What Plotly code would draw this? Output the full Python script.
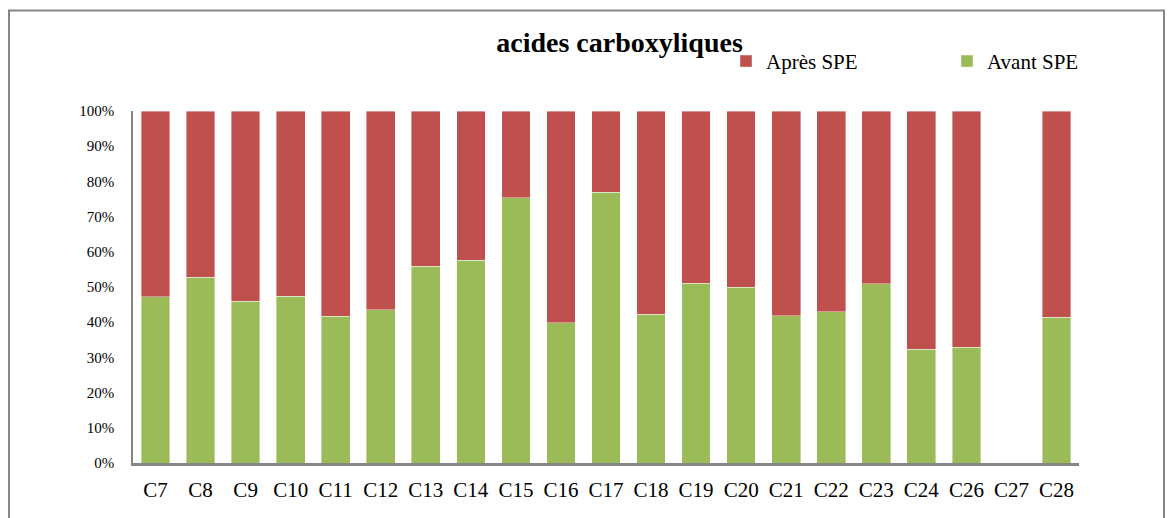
import plotly.graph_objects as go

categories = ["C7", "C8", "C9", "C10", "C11", "C12", "C13", "C14", "C15", "C16", "C17",
              "C18", "C19", "C20", "C21", "C22", "C23", "C24", "C26", "C27", "C28"]
avant_spe = [47.2, 52.8, 46.0, 47.4, 41.7, 43.5, 55.9, 57.6, 75.3, 39.9, 76.9,
             42.2, 51.0, 50.0, 41.8, 42.9, 50.9, 32.3, 32.9, None, 41.4]
apres_spe = [52.8, 47.2, 54.0, 52.6, 58.3, 56.5, 44.1, 42.4, 24.7, 60.1, 23.1,
             57.8, 49.0, 50.0, 58.2, 57.1, 49.1, 67.7, 67.1, None, 58.6]
y_ticks = [0, 10, 20, 30, 40, 50, 60, 70, 80, 90, 100]

OFF = 8  # page body margin
W, H = 1173 - OFF, 518 - OFF
L, R, T, B = 133 - OFF, 1079 - OFF, 110.7 - OFF, 463.3 - OFF
pw, ph = R - L, B - T

def px_x(p):
    return (p - OFF - L) / pw

def px_y(p):
    return (B - (p - OFF)) / ph

FONT = "Liberation Serif"

fig = go.Figure()
fig.add_trace(go.Bar(x=categories, y=avant_spe, name="Avant SPE",
                     marker=dict(color="#9BBB59", line=dict(color="rgba(255,255,255,0.5)", width=0.8))))
fig.add_trace(go.Bar(x=categories, y=apres_spe, name="Après SPE",
                     marker=dict(color="#C0504D", line=dict(color="rgba(255,255,255,0.5)", width=0.8))))

fig.update_layout(
    width=W, height=H,
    barmode="stack", bargap=0.363,
    plot_bgcolor="white", paper_bgcolor="white",
    margin=dict(l=L, r=W - R, t=T, b=H - B, pad=0, autoexpand=False),
    font=dict(family=FONT, color="black"),
    title=dict(text="<b>acides carboxyliques</b>", x=(619.5 - OFF) / W, xanchor="center",
               y=1 - (42 - OFF) / H, yanchor="middle", font=dict(size=28, family=FONT, color="black")),
    legend=dict(orientation="h", traceorder="reversed", x=px_x(726), xanchor="left",
                y=px_y(61), yanchor="middle", font=dict(size=21, family=FONT),
                itemwidth=30, entrywidth=176, bgcolor="rgba(0,0,0,0)"),
    showlegend=True,
)
fig.update_yaxes(range=[0, 100], tickvals=y_ticks, ticktext=[f"{v}%" for v in y_ticks],
                 showgrid=False, zeroline=False, showline=True, linecolor="#868686", linewidth=1.5,
                 ticks="", tickfont=dict(size=15, family=FONT), ticklabelstandoff=14)
fig.update_xaxes(showgrid=False, showline=True, linecolor="#868686", linewidth=2.5, ticks="",
                 tickfont=dict(size=21, family=FONT), ticklabelstandoff=6,
                 range=[-0.5, len(categories) - 0.5])

fig.add_shape(type="rect", xref="paper", yref="paper",
              x0=px_x(9), x1=px_x(1164), y0=px_y(540), y1=px_y(10),
              line=dict(color="#868686", width=2), fillcolor="rgba(0,0,0,0)", layer="below")

fig.write_html("out.html")
